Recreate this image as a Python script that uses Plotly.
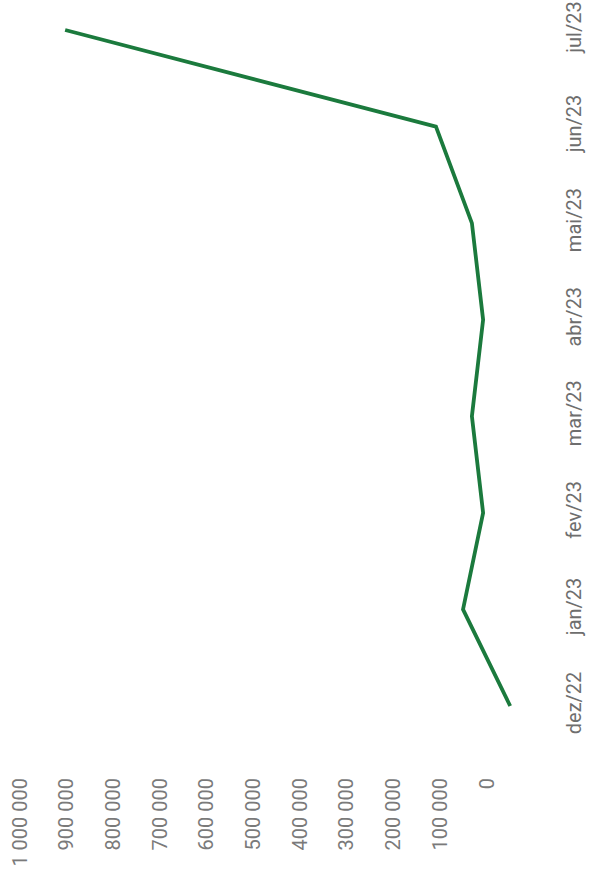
import plotly.graph_objects as go

months = ["dez/22", "jan/23", "fev/23", "mar/23", "abr/23", "mai/23", "jun/23", "jul/23"]
values = [21000, 122000, 79000, 103000, 79000, 103000, 180000, 974000]
tick_vals = [0, 100000, 200000, 300000, 400000, 500000, 600000, 700000, 800000, 900000, 1000000]
tick_text = ["0", "100 000", "200 000", "300 000", "400 000", "500 000",
             "600 000", "700 000", "800 000", "900 000", "1 000 000"]

fig = go.Figure()
fig.add_trace(go.Scatter(
    x=values, y=list(range(len(months))), mode="lines",
    line=dict(color="#1b7a3d", width=3.8),
    hoverinfo="skip", showlegend=False,
))

fig.update_layout(
    width=595, height=879,
    margin=dict(l=40, r=40, t=10, b=109),
    paper_bgcolor="white", plot_bgcolor="white",
    font=dict(family="Roboto", size=20, color="#7a7a7a"),
    xaxis=dict(
        range=[1027837, -74946], tickmode="array", tickvals=tick_vals, ticktext=tick_text,
        tickangle=-90, showgrid=False, zeroline=False, showline=False,
        ticklabelshift=33, ticklabelstandoff=3, ticks="", automargin=False,
        ticklabeloverflow="allow",
        tickfont=dict(color="#7a7a7a", size=20),
    ),
    yaxis=dict(
        range=[-0.663, 7.207], tickmode="array", tickvals=list(range(len(months))),
        ticktext=months, side="right", tickangle=-90, showgrid=False, zeroline=False,
        showline=False, ticks="", ticklabelstandoff=5, automargin=False,
        ticklabeloverflow="allow",
        tickfont=dict(color="#6e6e6e", size=20),
    ),
)

fig.write_html("out.html", config={"displayModeBar": False},
               post_script="document.body.style.margin='0px';")
